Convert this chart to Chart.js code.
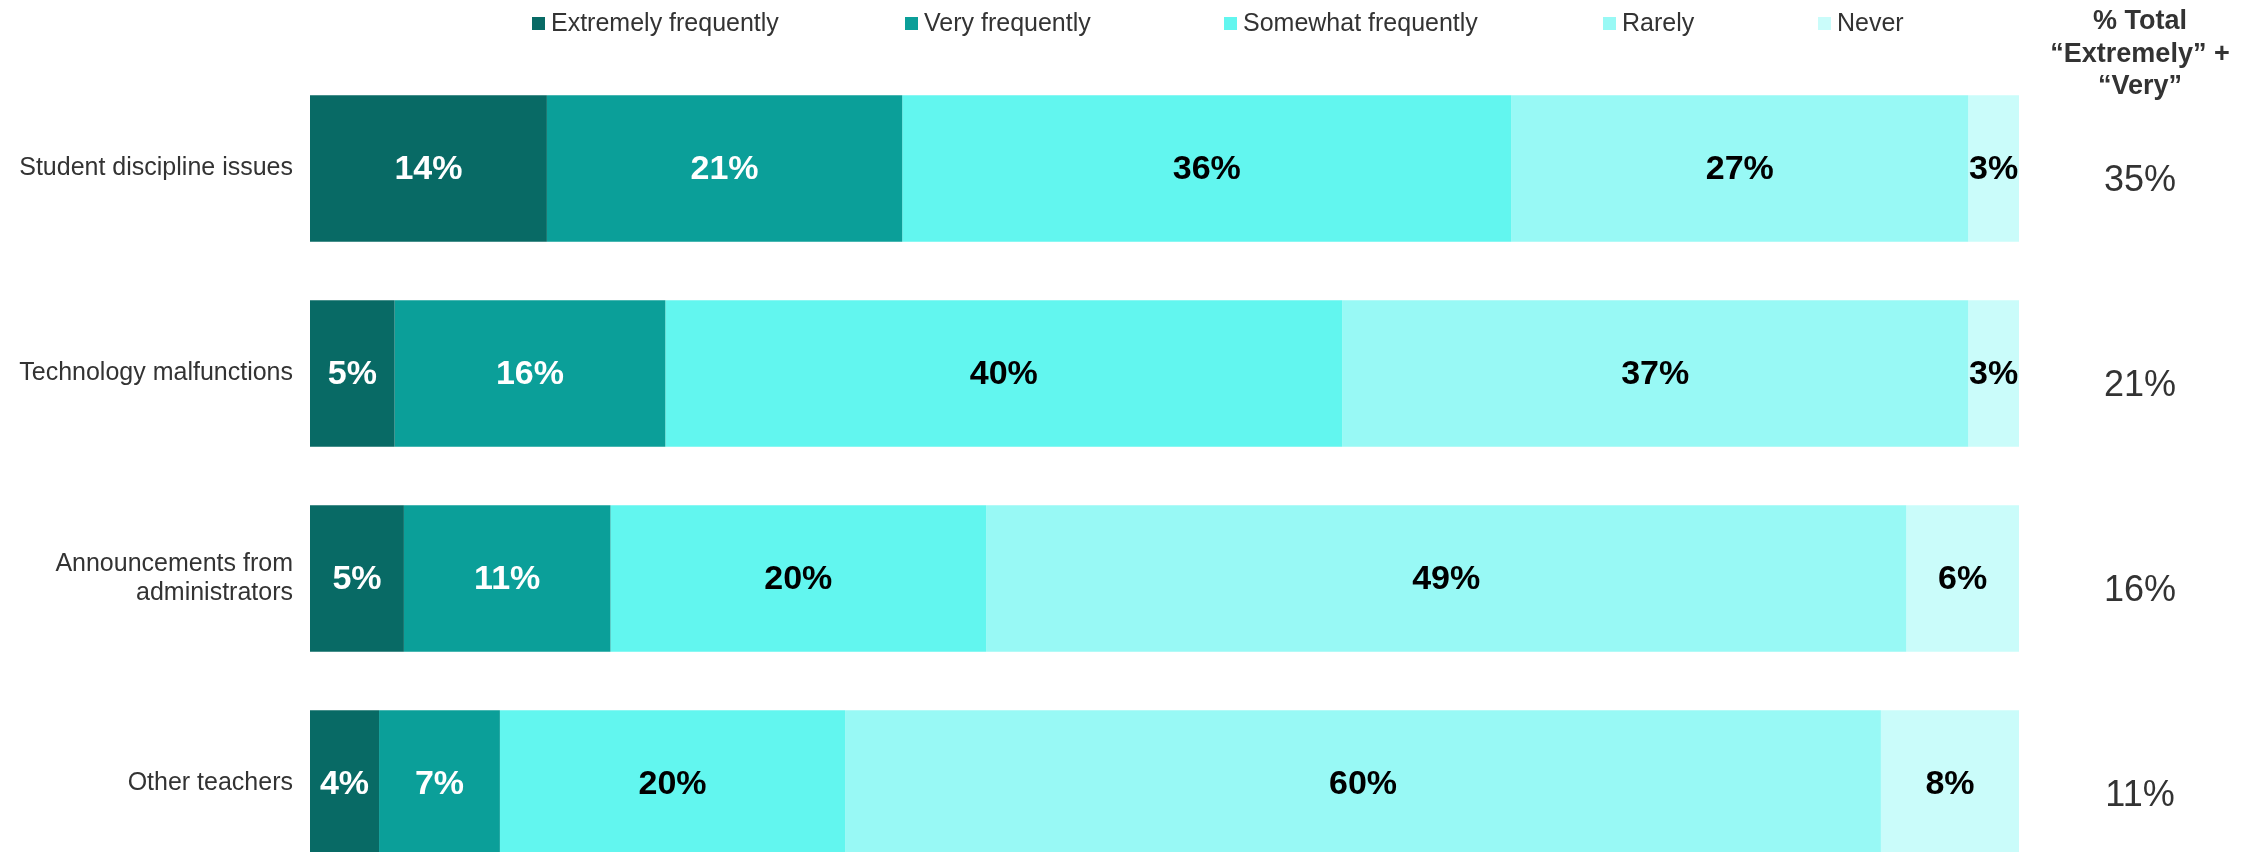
<!DOCTYPE html>
<html>
<head>
<meta charset="utf-8">
<title>Interruptions frequency</title>
<script src="https://cdn.jsdelivr.net/npm/chart.js@4"></script>
<style>
  html, body { margin: 0; padding: 0; background: #fff; overflow: hidden; }
  #wrap { width: 2256px; height: 852px; overflow: hidden; }
</style>
</head>
<body>
<div id="wrap">
  <canvas id="chart1" width="2256" height="886"></canvas>
</div>
<script>
// DATA
const categories = [
  "Student discipline issues",
  "Technology malfunctions",
  ["Announcements from", "administrators"],
  "Other teachers",
];
const seriesNames = ["Extremely frequently", "Very frequently", "Somewhat frequently", "Rarely", "Never"];
const extremely = [14, 5, 5, 4];
const very = [21, 16, 11, 7];
const somewhat = [36, 40, 20, 20];
const rarely = [27, 37, 49, 60];
const never = [3, 3, 6, 8];
const totalExtremelyVery = [35, 21, 16, 11];
const totalHeader = ["% Total", "\u201cExtremely\u201d +", "\u201cVery\u201d"];

const colors = ["#086a65", "#0b9f99", "#62f6ef", "#98f9f5", "#cafcfa"];
const labelColors = ["#ffffff", "#ffffff", "#000000", "#000000", "#000000"];
const FONT = "'Liberation Sans', Arial, sans-serif";

// each bar is drawn as its share of the row total (rows don't add to exactly 100)
const allSeries = [extremely, very, somewhat, rarely, never];
const rowSums = categories.map((c, i) => allSeries.reduce((s, arr) => s + arr[i], 0));

const datasets = allSeries.map((arr, k) => ({
  label: seriesNames[k],
  data: arr.map((v, i) => (v / rowSums[i]) * 100),
  raw: arr,
  backgroundColor: colors[k],
  borderWidth: 0,
  barPercentage: 1,
  categoryPercentage: 0.715,
}));

// bar labels, right hand column, legend
const extrasPlugin = {
  id: "extras",
  afterDatasetsDraw(chart) {
    const ctx = chart.ctx;
    ctx.save();
    ctx.textBaseline = "middle";
    ctx.textAlign = "center";
    ctx.font = "bold 34px " + FONT;
    chart.data.datasets.forEach((ds, k) => {
      const meta = chart.getDatasetMeta(k);
      meta.data.forEach((bar, i) => {
        const cx = (bar.x + bar.base) / 2;
        ctx.fillStyle = labelColors[k];
        ctx.fillText(ds.raw[i] + "%", cx, bar.y + 1);
      });
    });

    // right column
    const colX = 2140;
    ctx.fillStyle = "#333333";
    ctx.textBaseline = "alphabetic";
    ctx.font = "36px " + FONT;
    const meta0 = chart.getDatasetMeta(0);
    meta0.data.forEach((bar, i) => {
      ctx.fillText(totalExtremelyVery[i] + "%", colX, bar.y + 22.5);
    });
    ctx.font = "bold 27px " + FONT;
    totalHeader.forEach((line, j) => {
      ctx.fillText(line, colX, 29 + j * 32.5);
    });

    // legend
    const legendX = [532, 905, 1224, 1603, 1818];
    ctx.textAlign = "left";
    ctx.font = "25px " + FONT;
    seriesNames.forEach((name, k) => {
      ctx.fillStyle = colors[k];
      ctx.fillRect(legendX[k], 17, 13, 13);
      ctx.fillStyle = "#333333";
      ctx.fillText(name, legendX[k] + 19, 31);
    });
    ctx.restore();
  },
};

new Chart(document.getElementById("chart1"), {
  type: "bar",
  data: {
    labels: categories,
    datasets: datasets,
  },
  options: {
    indexAxis: "y",
    responsive: false,
    animation: false,
    layout: {
      padding: { top: 66, right: 237, bottom: 0, left: 0 },
    },
    scales: {
      x: {
        stacked: true,
        min: 0,
        max: 100,
        display: false,
      },
      y: {
        stacked: true,
        grid: { display: false, drawTicks: false },
        border: { display: false },
        ticks: {
          padding: 17,
          color: "#333333",
          font: { family: FONT, size: 25, lineHeight: 1.16 },
        },
        afterFit(scale) {
          scale.width = 310;
          scale.paddingTop = 0;
          scale.paddingBottom = 0;
        },
      },
    },
    plugins: {
      legend: { display: false },
      tooltip: { enabled: false },
    },
  },
  plugins: [extrasPlugin],
});
</script>
</body>
</html>
